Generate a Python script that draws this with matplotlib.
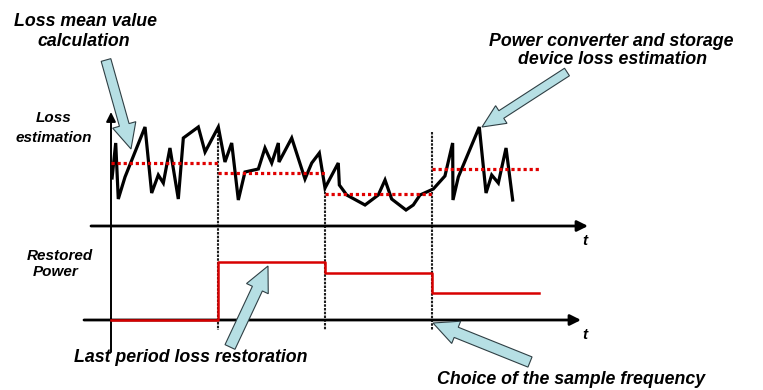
import matplotlib
matplotlib.use("Agg")
import matplotlib.pyplot as plt
from matplotlib.patches import FancyArrow

# ---- data -------------------------------------------------------------
# time in sampling periods (period boundaries at t = 0, 1, 2, 3, 4)
loss_t = [0.01, 0.044, 0.068, 0.131, 0.318, 0.380, 0.442, 0.489, 0.551, 0.629,
          0.676, 0.816, 0.879, 1.003, 1.065, 1.128, 1.190, 1.252, 1.377, 1.439,
          1.502, 1.564, 1.570, 1.689, 1.813, 1.876, 1.947, 2.000, 2.124, 2.134,
          2.203, 2.374, 2.498, 2.561, 2.623, 2.757, 2.825, 2.888, 3.012, 3.121,
          3.193, 3.196, 3.246, 3.442, 3.505, 3.558, 3.620, 3.692, 3.754]
loss_v = [4.8, 8.3, 2.7, 4.9, 9.9, 3.3, 5.1, 4.3, 7.8, 2.7,
          8.8, 9.9, 7.4, 9.9, 6.4, 8.3, 2.6, 5.4, 5.7, 7.8,
          6.3, 8.3, 6.4, 8.8, 4.7, 6.3, 7.3, 3.8, 6.3, 4.1,
          3.1, 2.1, 3.1, 4.6, 2.7, 1.6, 2.1, 3.1, 3.7, 5.0,
          8.3, 2.6, 4.9, 9.9, 3.3, 5.1, 4.3, 7.8, 2.6]

period_edges = [0, 1, 2, 3, 4]
loss_mean = [6.3, 5.3, 3.2, 5.7]          # mean loss over each period
restored_power = [0.0, 5.8, 4.7, 2.7]     # power restored in each period
edge_tops = [9.9, 3.8, 9.4]               # where the period markers start

# ---- layout (pixels) --------------------------------------------------
W, H = 763, 390
X0, PX_T = 111, 107        # t = 0 position and pixels per period
Y_LOSS, Y_POW = 226, 320   # baselines of the two time axes
PX_V = 10                  # pixels per value unit

fig = plt.figure(figsize=(W / 100, H / 100), dpi=100)
xl = (-X0 / PX_T, (W - X0) / PX_T)

ax_l = fig.add_axes([0, 0, 1, 1])
ax_l.set_xlim(*xl)
ax_l.set_ylim((Y_LOSS - H) / PX_V, Y_LOSS / PX_V)
ax_l.axis("off")

ax_p = fig.add_axes([0, 0, 1, 1])
ax_p.set_xlim(*xl)
ax_p.set_ylim((Y_POW - H) / PX_V, Y_POW / PX_V)
ax_p.axis("off")
ax_p.patch.set_alpha(0)

ov = fig.add_axes([0, 0, 1, 1])
ov.set_xlim(0, W)
ov.set_ylim(H, 0)
ov.axis("off")
ov.patch.set_alpha(0)

def tx(px):
    return (px - X0) / PX_T

# ---- axes arrows ------------------------------------------------------
ax_l.annotate("", xy=(tx(588), 0), xytext=(tx(91), 0),
              arrowprops=dict(arrowstyle="-|>", lw=2.0, color="black",
                              mutation_scale=16, shrinkA=0, shrinkB=0))
ax_p.annotate("", xy=(tx(581), 0), xytext=(tx(84), 0),
              arrowprops=dict(arrowstyle="-|>", lw=2.0, color="black",
                              mutation_scale=16, shrinkA=0, shrinkB=0))
ax_l.annotate("", xy=(0, (Y_LOSS - 112) / PX_V), xytext=(0, (Y_LOSS - 352) / PX_V),
              arrowprops=dict(arrowstyle="-|>", lw=1.4, color="black",
                              mutation_scale=14, shrinkA=0, shrinkB=0))

# period boundary markers
for e, top in zip(period_edges[1:4], edge_tops):
    ax_l.plot([e, e], [top, (Y_LOSS - 330) / PX_V], color="#1e1e1e", lw=1.5,
              linestyle=(0, (1.2, 0.6)), zorder=2)

# ---- loss signal and period means --------------------------------------
ax_l.plot(loss_t, loss_v, color="black", lw=2.3, solid_joinstyle="miter", zorder=3)
for i, m in enumerate(loss_mean):
    ax_l.plot([period_edges[i], period_edges[i + 1]], [m, m], color="#e00000",
              lw=2.3, linestyle=(0, (1, 0.9)), zorder=4)

# ---- restored power step ------------------------------------------------
sx, sy = [], []
for i, p in enumerate(restored_power):
    sx += [period_edges[i], period_edges[i + 1]]
    sy += [p, p]
ax_p.plot(sx, sy, color="#d80000", lw=1.8, zorder=3)

# ---- callout arrows -----------------------------------------------------
def callout(x0, y0, x1, y1, w=10, hw=24, hl=25):
    ov.add_patch(FancyArrow(x0, y0, x1 - x0, y1 - y0, width=w, head_width=hw,
                            head_length=hl, length_includes_head=True,
                            facecolor="#b6dfe4", edgecolor="#2f3f44", lw=0.8,
                            zorder=10))

callout(106, 60, 131, 149)
callout(567, 72, 482, 127, w=9, hw=21, hl=23)
callout(230, 347, 268, 266, w=11, hw=24, hl=25)
callout(530, 362, 433, 323, w=11, hw=24, hl=25)

# ---- text ---------------------------------------------------------------
font = dict(family="Liberation Sans", weight="bold", style="italic",
            ha="center", va="center", color="black", zorder=11)
big, small = 12.8, 11

ov.text(86, 22, "Loss mean value", fontsize=big, **font)
ov.text(84, 42, "calculation", fontsize=big, **font)
ov.text(54, 118, "Loss", fontsize=small, **font)
ov.text(54, 138, "estimation", fontsize=small, **font)
ov.text(60, 256, "Restored", fontsize=small, **font)
ov.text(56, 272, "Power", fontsize=small, **font)
ov.text(611, 42, "Power converter and storage", fontsize=big, **font)
ov.text(613, 60, "device loss estimation", fontsize=big, **font)
ov.text(191, 358, "Last period loss restoration", fontsize=big, **font)
ov.text(571, 380, "Choice of the sample frequency", fontsize=big, **font)
ov.text(585, 241, "t", fontsize=small, **font)
ov.text(585, 335, "t", fontsize=small, **font)

fig.savefig("out.png", dpi=100)
